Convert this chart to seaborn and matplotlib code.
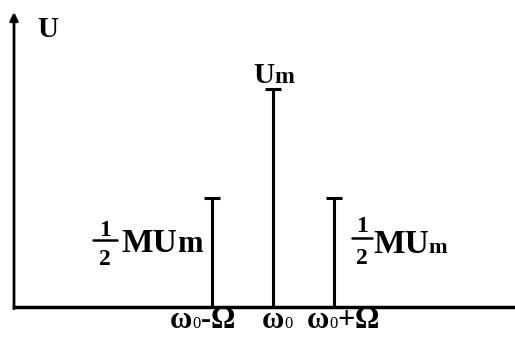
import matplotlib
matplotlib.use("Agg")
import matplotlib.pyplot as plt
import pandas as pd
import seaborn as sns

# Spectrum of an AM signal: carrier and two side frequencies
positions = [-1, 0, 1]                      # in units of Omega around omega_0
amplitudes = [0.5, 1.0, 0.5]                # relative to Um
tick_labels = [
    [("ω", "b"), ("0", "sub"), ("-", "op"), ("Ω", "b")],
    [("ω", "b"), ("0", "sub")],
    [("ω", "b"), ("0", "sub"), ("+", "op"), ("Ω", "b")],
]

sns.set_style("white")
plt.rcParams["font.family"] = ["Liberation Serif", "DejaVu Serif"]

W, H = 515, 337
fig = plt.figure(figsize=(W / 100, H / 100), dpi=100)
fig.patch.set_facecolor("white")

# axes spanning from the vertical axis (x=14px) to the right edge,
# baseline at y=307px, arrow tip at y=12px
ax = fig.add_axes([14 / W, 30 / H, 501 / W, 295 / H])
x_per_unit = 61.3
y_per_unit = 218.0
xmin = (14 - 273) / x_per_unit
xmax = (515 - 273) / x_per_unit
ymax = 295 / y_per_unit
ax.set_xlim(xmin, xmax)
ax.set_ylim(0, ymax)

df = pd.DataFrame({"pos": positions, "amp": amplitudes})

# spectral lines with short caps on top
ax.vlines(df["pos"], 0, df["amp"], color="black", lw=2.2, zorder=3)
sns.scatterplot(data=df, x="pos", y="amp", marker="_", s=120,
                linewidth=2.2, edgecolor="black", color="black",
                ax=ax, zorder=4, legend=False)

# axes: bottom line plus vertical arrow
for side in ["top", "right", "left"]:
    ax.spines[side].set_visible(False)
ax.spines["bottom"].set_linewidth(2.5)
ax.spines["bottom"].set_color("black")
ax.annotate("", xy=(xmin, ymax), xytext=(xmin, -0.008),
            arrowprops=dict(arrowstyle="-|>", lw=2.0, color="black",
                            mutation_scale=12, shrinkA=0, shrinkB=0),
            annotation_clip=False)
ax.set_xticks([])
ax.set_yticks([])
ax.set_xlabel("")
ax.set_ylabel("")


def fx(x):
    return x / W


def fy(y):
    return 1 - y / H


renderer = fig.canvas.get_renderer()


def chain(x, y, parts):
    """Write text pieces one after another along a common baseline.

    parts: (text, size, weight, drop) with drop in pixels below the baseline.
    """
    for txt, size, weight, drop in parts:
        t = fig.text(fx(x), fy(y + drop), txt, fontsize=size, ha="left",
                     va="baseline", fontweight=weight, color="black")
        x = t.get_window_extent(renderer).x1
    return x


def half(xc, y_bar, y1, y2, width, size):
    kw = dict(fontsize=size, ha="center", va="baseline",
              fontweight="bold", color="black")
    fig.text(fx(xc), fy(y1), "1", **kw)
    fig.text(fx(xc), fy(y2), "2", **kw)
    fig.add_artist(plt.Line2D([fx(xc - width / 2), fx(xc + width / 2)],
                              [fy(y_bar), fy(y_bar)], color="black", lw=1.8))


# frequency labels under the lines
styles = {"b": (22, "bold", 0), "sub": (12, "normal", 0),
          "op": (22, "bold", 0)}
label_left = [170, 262, 307]
for x0, pieces in zip(label_left, tick_labels):
    chain(x0, 328, [(t, *styles[k]) for t, k in pieces])

# axis name
chain(37, 37, [("U", 21, "bold", 0)])

# carrier amplitude
chain(253, 83, [("U", 21, "bold", 0), ("m", 17, "bold", 0)])

# side amplitudes
half(105, 240, 236, 265, 24, 17)
chain(121, 252, [("MU", 24, "bold", 0), ("m", 22, "bold", 0)])

half(362, 238, 232, 264, 20, 17)
chain(373, 253, [("MU", 24, "bold", 0), ("m", 16, "bold", 0)])

fig.savefig("out.png", dpi=100, facecolor="white")
